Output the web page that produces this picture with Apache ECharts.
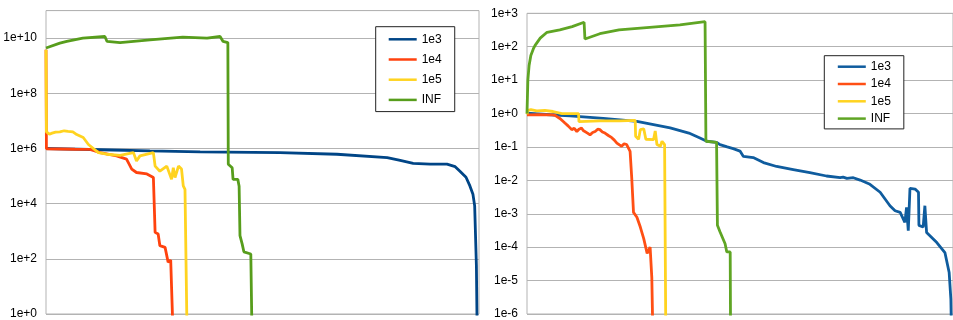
<!DOCTYPE html>
<html><head><meta charset="utf-8">
<script src="https://cdn.jsdelivr.net/npm/echarts@6/dist/echarts.min.js"></script>
<style>html,body{margin:0;padding:0;background:#fff}#c{width:953px;height:320px}</style>
</head><body><div id="c"></div>
<script>
// ---------- series names ----------
const seriesNames = ['1e3', '1e4', '1e5', 'INF'];

// ---------- left panel (x in run units 0..1000) ----------
const L_1e3_x = [0,125,240,356,540,672,788,818,848,887,926,945,956,970,979,986,990,994,996];
const L_1e3_y = [1.0e6,9.0e5,8.2e5,7.6e5,7.1e5,6.2e5,4.7e5,3.7e5,2.9e5,2.7e5,2.7e5,2.2e5,1.5e5,9.1e4,4.4e4,2.2e4,8.3e3,56,0.1];

const L_1e4_x = [0,1,32,67,102,125,163,186,198,209,233,248,252,259,263,275,282,288,294];
const L_1e4_y = [3.8e9,9.8e5,9.6e5,9.4e5,9.3e5,7.1e5,5.4e5,4.1e5,1.8e5,1.35e5,1.2e5,8.9e4,9.1e2,7.9e2,3.0e2,2.6e2,76,90,0.1];

const L_1e5_x = [0,1,8,14,22,32,42,51,62,71,86,98,121,140,171,202,209,217,248,252,263,279,290,294,298,306,313,317,321,326];
const L_1e5_y = [3.8e9,4.0e6,3.3e6,3.6e6,3.9e6,4.0e6,4.4e6,4.2e6,4.0e6,3.2e6,2.5e6,1.4e6,7.1e5,6.2e5,5.6e5,7.1e5,3.5e5,5.4e5,7.1e5,2.3e5,1.5e5,2.3e5,7.6e4,2.0e5,8.9e4,2.3e5,1.8e5,4.4e4,3.3e4,0.1];

const L_INF_x = [0,32,48,85,136,141,171,240,316,372,402,409,420,421,430,432,443,446,448,453,457,473,476];
const L_INF_y = [4.4e9,6.6e9,7.6e9,1.0e10,1.15e10,7.6e9,6.9e9,8.7e9,1.1e10,1.0e10,1.15e10,7.6e9,6.9e9,2.7e5,2.0e5,7.6e4,7.6e4,4.3e4,690,350,180,150,0.1];

// ---------- right panel ----------
const R_1e3_x = [0,54,101,179,258,336,380,406,422,445,453,470,484,500,508,531,555,586,625,664,703,735,742,746,751,766,782,805,829,852,864,876,887,891,895,899,911,919,920,930,934,938,962,981,991,995,997];
const R_1e3_y = [1.02,0.92,0.85,0.72,0.58,0.37,0.26,0.186,0.148,0.138,0.117,0.1,0.089,0.075,0.052,0.048,0.034,0.026,0.021,0.017,0.0135,0.012,0.0125,0.0143,0.0115,0.012,0.0102,7.6e-3,4.4e-3,1.74e-3,1.23e-3,1.1e-3,5.5e-4,1.55e-3,3.1e-4,5.8e-3,5.5e-3,4.4e-3,4.5e-4,4.0e-4,1.74e-3,2.75e-4,1.38e-4,6.9e-5,1.74e-5,2.8e-6,1e-7];

const R_1e4_x = [0,31,59,66,78,89,97,105,111,117,122,128,132,136,142,148,154,160,166,171,177,183,191,199,205,211,217,222,228,234,238,242,246,250,258,266,274,282,289,293,296];
const R_1e4_y = [0.91,0.92,0.91,0.88,0.7,0.52,0.42,0.33,0.36,0.29,0.34,0.37,0.31,0.29,0.26,0.23,0.27,0.29,0.34,0.33,0.28,0.26,0.22,0.19,0.16,0.13,0.115,0.105,0.125,0.118,0.135,0.074,0.011,1.1e-3,7.9e-4,4.0e-4,1.8e-4,6.5e-5,1.0e-4,1.2e-5,1e-7];

const R_1e5_x = [0,2,9,23,42,61,82,121,122,171,218,254,255,262,266,274,279,297,301,305,313,317,323,326];
const R_1e5_y = [0.95,1.25,1.3,1.2,1.25,1.15,1.0,1.0,0.57,0.6,0.6,0.62,0.21,0.17,0.33,0.35,0.17,0.165,0.3,0.118,0.105,0.148,0.118,1e-7];

const R_INF_x = [0,2,5,9,15,19,31,47,77,106,134,136,171,216,288,359,418,420,445,447,453,465,469,477,478];
const R_INF_y = [1.0,10,28,55,87,110,180,270,320,400,540,170,245,320,380,450,560,0.148,0.138,4.5e-4,2.9e-4,1.26e-4,7.2e-5,7.2e-5,1e-7];

// ---------- tick range (exponents) ----------
const leftExp = [0, 11], leftStep = 2;
const rightExp = [-6, 3], rightStep = 1;

const colorsL = ['#004586', '#ff420e', '#ffd320', '#579d1c'];
const colorsR = ['#0f5c9e', '#ff4f14', '#ffd320', '#5fa524'];

function pairs(xs, ys) { return xs.map((x, i) => [x, ys[i]]); }
function expLabel(v) { const e = Math.round(Math.log10(v)); return '1e' + (e >= 0 ? '+' : '') + e; }

const leftData = [[L_1e3_x, L_1e3_y], [L_1e4_x, L_1e4_y], [L_1e5_x, L_1e5_y], [L_INF_x, L_INF_y]];
const rightData = [[R_1e3_x, R_1e3_y], [R_1e4_x, R_1e4_y], [R_1e5_x, R_1e5_y], [R_INF_x, R_INF_y]];

const font = 'Liberation Sans, Arial, sans-serif';
const gridLine = '#b3b3b3';

function yAxis(idx, exps, step, hideMax) {
  return {
    gridIndex: idx, type: 'log', logBase: 10,
    min: Math.pow(10, exps[0]), max: Math.pow(10, exps[1]), interval: step,
    axisLine: { show: false }, axisTick: { show: false },
    splitLine: { show: true, lineStyle: { color: gridLine, width: 1 } },
    axisLabel: { formatter: expLabel, color: '#000', fontSize: 12, fontFamily: font, margin: 9, showMaxLabel: !hideMax, showMinLabel: true }
  };
}
function legend(left, top, gap, pad, colors) {
  return {
    orient: 'vertical', left: left, top: top, itemGap: gap, padding: pad,
    icon: 'rect', itemWidth: 28, itemHeight: 2.5,
    borderColor: '#222', borderWidth: 1, backgroundColor: '#fff',
    textStyle: { color: '#000', fontSize: 12, fontFamily: font, lineHeight: 14 },
    selectedMode: false,
    data: seriesNames.map((n, i) => ({ name: n, itemStyle: { color: colors[i] } }))
  };
}

const series = [];
leftData.forEach((d, i) => series.push({
  name: seriesNames[i], type: 'line', xAxisIndex: 0, yAxisIndex: 0, symbol: 'none',
  data: pairs(d[0], d[1]), lineStyle: { width: 2.8, color: colorsL[i] }, itemStyle: { color: colorsL[i] },
  clip: true, animation: false
}));
rightData.forEach((d, i) => series.push({
  name: seriesNames[i], type: 'line', xAxisIndex: 1, yAxisIndex: 1, symbol: 'none',
  data: pairs(d[0], d[1]), lineStyle: { width: 2.8, color: colorsR[i] }, itemStyle: { color: colorsR[i] },
  clip: true, animation: false
}));

const chart = echarts.init(document.getElementById('c'), null, { renderer: 'canvas' });
chart.setOption({
  animation: false,
  backgroundColor: '#fff',
  grid: [
    { left: 46, right: 474, top: 10.6, bottom: 4.7, show: true, borderColor: gridLine, borderWidth: 1 },
    { left: 527, right: 0, top: 13.3, bottom: 3.3, show: true, borderColor: gridLine, borderWidth: 1 }
  ],
  xAxis: [
    { gridIndex: 0, type: 'value', min: 0, max: 1000, show: false },
    { gridIndex: 1, type: 'value', min: 0, max: 1000, show: false }
  ],
  yAxis: [yAxis(0, leftExp, leftStep, true), yAxis(1, rightExp, rightStep, false)],
  legend: [
    legend(375.7, 26.7, 6.2, [5.6, 13, 4.7, 13], colorsL),
    legend(824.3, 55.7, 3.3, [4, 13, 3.3, 13.5], colorsR)
  ],
  series: series
});
</script>
</body></html>
